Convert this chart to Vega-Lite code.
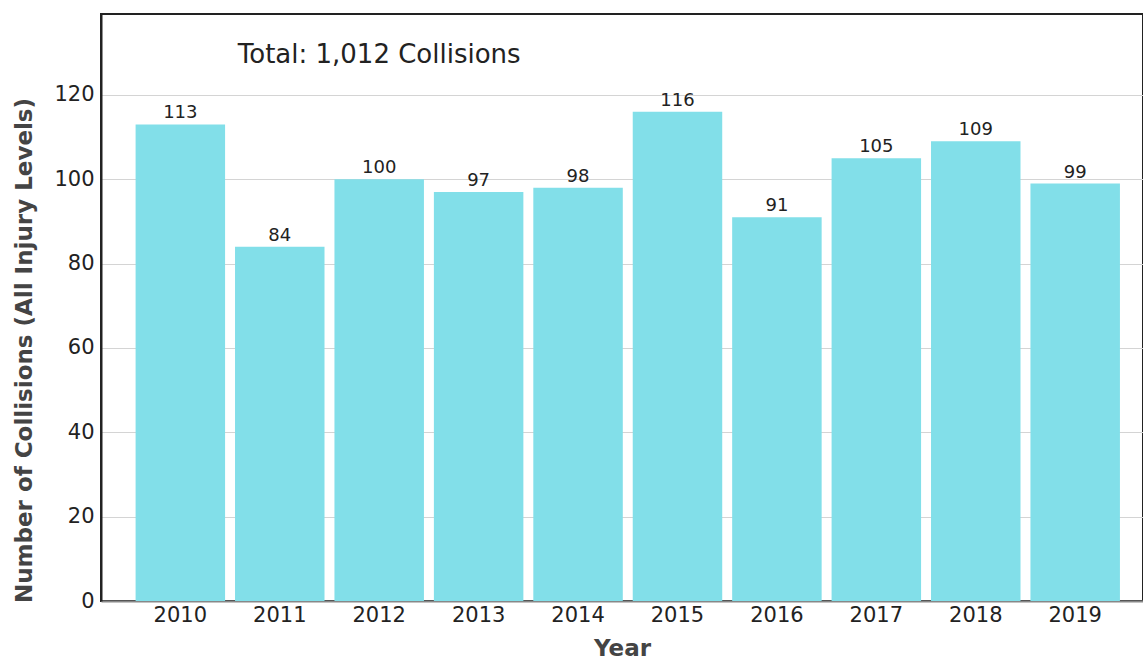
{
  "$schema": "https://vega.github.io/schema/vega-lite/v6.json",
  "width": 1042,
  "height": 587,
  "autosize": {"type": "none"},
  "padding": {"left": 101, "top": 14, "right": 0, "bottom": 60},
  "background": "white",
  "config": {
    "font": "DejaVu Sans",
    "view": {"stroke": "#222", "strokeWidth": 2}
  },
  "datasets": {
    "bars": [
      {"Year": "2010", "Collisions": 113},
      {"Year": "2011", "Collisions": 84},
      {"Year": "2012", "Collisions": 100},
      {"Year": "2013", "Collisions": 97},
      {"Year": "2014", "Collisions": 98},
      {"Year": "2015", "Collisions": 116},
      {"Year": "2016", "Collisions": 91},
      {"Year": "2017", "Collisions": 105},
      {"Year": "2018", "Collisions": 109},
      {"Year": "2019", "Collisions": 99}
    ],
    "note": [
      {"Year": "2012", "Collisions": 129.5, "label": "Total: 1,012 Collisions"}
    ]
  },
  "layer": [
    {
      "data": {"name": "bars"},
      "mark": {"type": "bar", "color": "#82dfe9"},
      "encoding": {
        "x": {
          "field": "Year", "type": "nominal", "sort": null,
          "scale": {"paddingInner": 0.1, "paddingOuter": 0.29, "align": 0.6},
          "axis": {
            "labelAngle": 0, "ticks": false, "labelPadding": 3,
            "labelFontSize": 21, "labelColor": "#222",
            "domainColor": "#888", "domainWidth": 2,
            "title": "Year", "titleFontSize": 23, "titleFontWeight": "bold",
            "titleColor": "#444", "titlePadding": 12
          }
        },
        "y": {
          "field": "Collisions", "type": "quantitative",
          "scale": {"domain": [0, 139.2], "nice": false},
          "axis": {
            "values": [0, 20, 40, 60, 80, 100, 120],
            "ticks": false, "labelPadding": 7,
            "labelFontSize": 21, "labelColor": "#222",
            "domainColor": "#222", "domainWidth": 2,
            "grid": true, "gridColor": "#d4d4d4", "gridWidth": 1,
            "title": "Number of Collisions (All Injury Levels)",
            "titleFontSize": 23, "titleFontWeight": "bold", "titleColor": "#444",
            "titleX": -77, "titleY": 336, "titleAngle": -90,
            "titleAlign": "center", "titleBaseline": "middle"
          }
        }
      }
    },
    {
      "data": {"name": "bars"},
      "mark": {"type": "text", "baseline": "bottom", "dy": -2, "fontSize": 18, "color": "#222"},
      "encoding": {
        "x": {"field": "Year", "type": "nominal", "sort": null},
        "y": {"field": "Collisions", "type": "quantitative"},
        "text": {"field": "Collisions", "type": "quantitative"}
      }
    },
    {
      "data": {"name": "note"},
      "mark": {"type": "text", "baseline": "middle", "align": "center", "fontSize": 26, "color": "#222"},
      "encoding": {
        "x": {"field": "Year", "type": "nominal", "sort": null},
        "y": {"field": "Collisions", "type": "quantitative"},
        "text": {"field": "label", "type": "nominal"}
      }
    }
  ]
}
